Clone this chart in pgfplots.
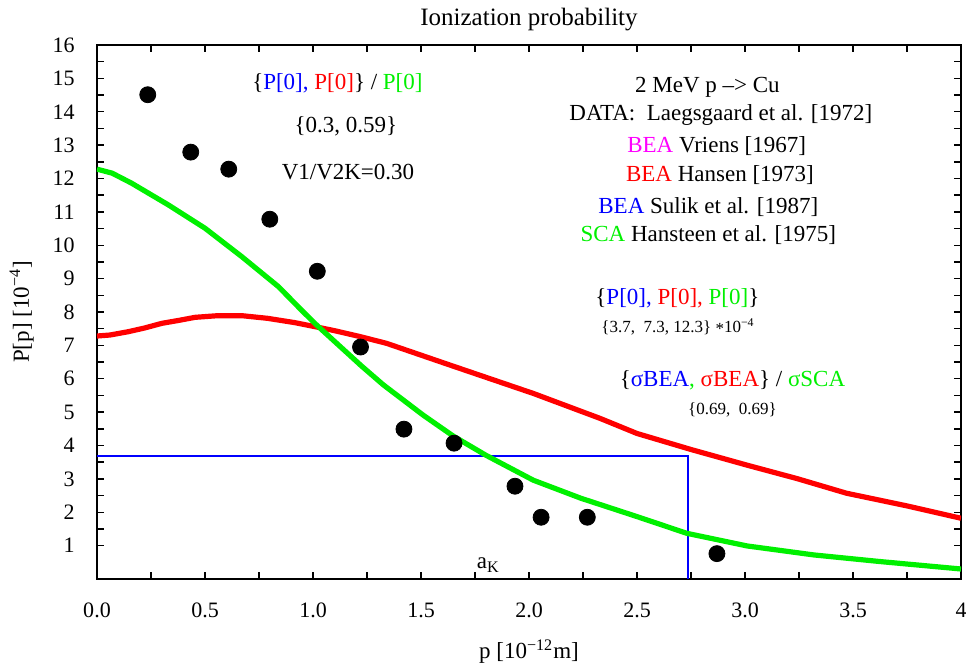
\documentclass[border=0pt]{standalone}
\usepackage{pgfplots}
\pgfplotsset{compat=1.18}
\usepackage{fontspec}
\setmainfont{Liberation Serif}
\definecolor{cgreen}{RGB}{0,240,0}
\definecolor{cred}{RGB}{255,0,0}
\definecolor{cblue}{RGB}{0,0,255}
\definecolor{cmag}{RGB}{255,0,255}
\newcommand{\fmain}{\fontsize{11.5}{13.5}\selectfont}
\newcommand{\fsmall}{\fontsize{8.5}{10}\selectfont}
\begin{document}
\begin{tikzpicture}
\begin{axis}[
  scale only axis,
  width=432pt, height=267pt,
  xmin=0, xmax=4, ymin=0, ymax=16,
  xtick={0,0.5,1,1.5,2,2.5,3,3.5,4},
  xticklabels={0.0,0.5,1.0,1.5,2.0,2.5,3.0,3.5,4},
  ytick={1,2,...,16},
  minor x tick num=1, minor y tick num=1,
  tick align=inside,
  major tick length=3.5pt, minor tick length=3.5pt,
  axis line style={line width=1pt},
  every tick/.style={black, line width=0.7pt},
  /pgf/number format/assume math mode=true,
  xticklabel style={font=\fontsize{11}{13}\selectfont, anchor=center, yshift=-15.5pt},
  yticklabel style={font=\fontsize{11}{13}\selectfont, anchor=east, inner sep=0pt, xshift=-11pt},
  title={Ionization probability},
  title style={font=\fontsize{12.5}{14}\selectfont, at={(axis description cs:0.5,1)}, anchor=center, yshift=6.5pt},
  xlabel={p [10\textsuperscript{−12}m]},
  xlabel style={font=\fontsize{11.5}{13}\selectfont, at={(axis description cs:0.5,-0.1361)}, anchor=center},
  ylabel={P[p] [10\textsuperscript{−4}]},
  ylabel style={font=\fontsize{11.5}{13}\selectfont, at={(axis description cs:-0.0872,0.5)}, anchor=center},
  clip mode=individual,
]
\coordinate (bl) at (rel axis cs:0,0);
\coordinate (tr) at (rel axis cs:1,1);
% BEA Sulik (blue)
\addplot[cblue, line width=1pt] coordinates {(0,3.7) (2.735,3.7) (2.735,0)};
% BEA Hansen (red)
\addplot[cred, line width=2.6pt, line join=round] coordinates {
(0,7.28) (0.06,7.31) (0.145,7.41) (0.22,7.52) (0.30,7.66) (0.38,7.75) (0.454,7.84) (0.56,7.89) (0.67,7.89)
(0.79,7.81) (0.917,7.68) (1.01,7.56) (1.10,7.44) (1.22,7.26) (1.341,7.06) (1.634,6.41) (2.02,5.56)
(2.33,4.81) (2.5,4.36) (2.75,3.88) (3.01,3.41) (3.24,3.01) (3.47,2.57) (3.75,2.19) (4.0,1.82)};
% SCA (green)
\addplot[cgreen, line width=2.6pt, line join=round] coordinates {
(0,12.28) (0.07,12.16) (0.16,11.86) (0.33,11.21) (0.5,10.51) (0.67,9.66) (0.84,8.76) (0.94,8.1)
(1.01,7.65) (1.125,6.97) (1.225,6.38) (1.325,5.82) (1.51,4.91) (1.65,4.28) (1.80,3.71) (2.02,2.96) (2.24,2.42)
(2.5,1.87) (2.73,1.37) (3.01,0.99) (3.32,0.72) (3.63,0.52) (4.0,0.30)};
% data
\addplot[only marks, mark=*, mark size=4pt, black] coordinates {
(0.235,14.51) (0.434,12.79) (0.61,12.28) (0.80,10.78) (1.02,9.22) (1.22,6.95)
(1.421,4.49) (1.653,4.07) (1.935,2.78) (2.056,1.85) (2.27,1.85) (2.87,0.76)};
% annotations
\node[font=\fmain] at (axis cs:1.113,14.86) {\{\textcolor{cblue}{P[0],} \textcolor{cred}{P[0]}\} / \textcolor{cgreen}{P[0]}};
\node[font=\fmain] at (axis cs:1.152,13.55) {\{0.3, 0.59\}};
\node[font=\fmain] at (axis cs:1.162,12.2) {V1/V2K=0.30};
\node[font=\fmain] at (axis cs:2.826,14.74) {2 MeV p –> Cu};
\node[font=\fmain] at (axis cs:2.888,13.9) {DATA:\ \ Laegsgaard et al. [1972]};
\node[font=\fmain] at (axis cs:2.869,12.97) {\textcolor{cmag}{BEA} Vriens [1967]};
\node[font=\fmain] at (axis cs:2.884,12.1) {\textcolor{cred}{BEA} Hansen [1973]};
\node[font=\fmain] at (axis cs:2.830,11.15) {\textcolor{cblue}{BEA} Sulik et al. [1987]};
\node[font=\fmain] at (axis cs:2.830,10.31) {\textcolor{cgreen}{SCA} Hansteen et al. [1975]};
\node[font=\fmain] at (axis cs:2.687,8.41) {\{\textcolor{cblue}{P[0],} \textcolor{cred}{P[0],} \textcolor{cgreen}{P[0]}\}};
\node[font=\fsmall] at (axis cs:2.690,7.56) {\{3.7,\ \ 7.3, 12.3\} \raisebox{-0.35ex}{*}10\textsuperscript{−4}};
\node[font=\fmain] at (axis cs:2.942,5.96) {\{\textcolor{cblue}{σBEA}\textcolor{cgreen}{,} \textcolor{cred}{σBEA}\} / \textcolor{cgreen}{σSCA}};
\node[font=\fsmall] at (axis cs:2.942,5.06) {\{0.69,\ \ 0.69\}};
\node[font=\fmain, anchor=base west, inner sep=0pt] at (axis cs:1.757,0.31) {a\textsubscript{K}};
\end{axis}
\pgfresetboundingbox
\path ([shift={(-48.5pt,-41.5pt)}]bl) rectangle ([shift={(2.5pt,22.5pt)}]tr);
\end{tikzpicture}
\end{document}
